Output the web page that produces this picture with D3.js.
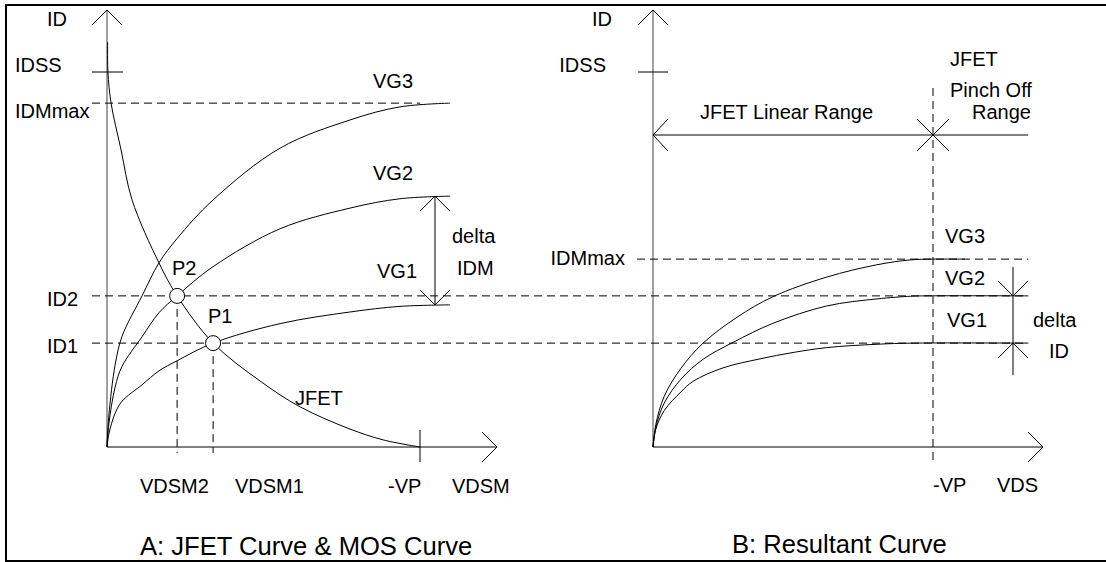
<!DOCTYPE html>
<html><head><meta charset="utf-8">
<script src="https://cdn.jsdelivr.net/npm/d3@7"></script>
<style>body{margin:0;background:#fff}svg{display:block}text{font-family:"Liberation Sans",Arial,sans-serif;fill:#000}</style>
</head><body><svg id="c" width="1106" height="562"></svg>
<script>
// ---- data (ID: IDSS = 100, VDSM/VDS: -VP = 100) ----
const levels = {IDSS:100, IDMmaxA:91.7, ID2:40.3, ID1:27.7, IDMmaxB:50.1};
const jfetX = [0.2, 0.3, 1.3, 4.5, 8.0, 16.6, 22.4, 33.9, 48.9, 61.7, 77.6, 88.2, 100];
const jfetY = [108, 100, 91.7, 79.2, 65.9, 49.1, 40.3, 27.7, 17.6, 10.7, 4.8, 1.9, 0];
const mosX  = [0, 0.6, 2.6, 4.8, 11.2, 16.6, 22.4, 33.9, 55.3, 77.6, 93.6, 109.6];
const vg3A  = [0, 8.5, 21.9, 29.5, 40.3, 49.1, 55.6, 65.9, 79.7, 87.2, 90.7, 91.7];
const vg2A  = [0, 6.2, 16.0, 21.5, 29.4, 35.8, 40.3, 48.1, 58.2, 63.7, 66.2, 66.9];
const vg1A  = [0, 3.5, 9.0, 12.2, 16.6, 20.3, 23.0, 27.7, 32.9, 36.0, 37.5, 37.9];
const points = [{name:"P2", x:22.4, y:40.3}, {name:"P1", x:33.9, y:27.7}];
const vg3BX = [0, 1, 4, 10, 17.9, 30, 42.9, 62, 80, 92, 100, 111.4];
const vg3B  = [0, 6.0, 13.5, 21.0, 27.7, 34.6, 40.1, 45.3, 48.6, 49.9, 50.1, 50.1];
const vg2BX = [0, 1, 4, 10, 17.9, 28.6, 42.9, 62, 80, 92, 96.4, 134];
const vg2B  = [0, 5.2, 11.7, 18.1, 23.4, 27.9, 33.0, 37.6, 39.5, 40.2, 40.3, 40.3];
const vg1BX = [0, 1, 4, 10, 14.3, 25, 38.2, 50, 62, 80, 93, 134];
const vg1B  = [0, 4.7, 9.7, 14.7, 17.5, 21.1, 23.5, 25.2, 26.5, 27.4, 27.7, 27.7];
const xEndB = 134;   // right end of horizontal lines in panel B
const vpX = 100;

// ---- layout ----
const svg = d3.select("#c");
const xA = d3.scaleLinear().domain([0,100]).range([107,420]);
const xB = d3.scaleLinear().domain([0,100]).range([653,933]);
const y  = d3.scaleLinear().domain([0,100]).range([447,72]);

svg.append("rect").attr("x",6).attr("y",5).attr("width",1300).attr("height",556)
  .attr("fill","none").attr("stroke","#000").attr("stroke-width",2);

const g = svg.append("g").attr("fill","none").attr("stroke","#000").attr("stroke-width",1);
const seg = (x1,y1,x2,y2,dash)=>{const l=g.append("line").attr("x1",x1).attr("y1",y1).attr("x2",x2).attr("y2",y2); if(dash) l.attr("stroke-dasharray","8,5"); return l;};
const poly = (pts)=>g.append("path").attr("d", d3.line()(pts));

function axes(x0, y0, yTop, xEnd){
  seg(x0,y0,x0,yTop).attr("stroke","#444"); poly([[x0-15,yTop+15],[x0,yTop],[x0+15,yTop+15]]);
  seg(x0,y0,xEnd,y0); poly([[xEnd-15,y0-15],[xEnd,y0],[xEnd-15,y0+15]]);
}
axes(xA(0), y(0), 10, 497);
axes(xB(0), y(0), 10, 1043);
// IDSS ticks
seg(xA(0)-15, y(levels.IDSS), xA(0)+16, y(levels.IDSS));
seg(xB(0)-15, y(levels.IDSS), xB(0)+15, y(levels.IDSS));
// -VP tick (A)
seg(xA(vpX), y(0)-17, xA(vpX), y(0)+15);

// dashed reference lines
seg(xA(0)-15, y(levels.IDMmaxA), xA(vpX), y(levels.IDMmaxA), true);
seg(xA(0)-15, y(levels.ID2), xB(xEndB), y(levels.ID2), true);
seg(xA(0)-15, y(levels.ID1), xB(xEndB), y(levels.ID1), true);
seg(xB(0)-16, y(levels.IDMmaxB), xB(xEndB), y(levels.IDMmaxB), true);
points.forEach(p=>seg(xA(p.x), y(p.y), xA(p.x), y(0)+6, true));
seg(xB(vpX), 88, xB(vpX), y(0)+15, true);

// curves
const cr = d3.curveCatmullRom.alpha(0.5);
const lineA = d3.line().curve(cr).x(d=>xA(d[0])).y(d=>y(d[1]));
const lineB = d3.line().curve(cr).x(d=>xB(d[0])).y(d=>y(d[1]));
g.append("path").attr("d", lineA(d3.zip(jfetX, jfetY)));
[vg3A, vg2A, vg1A].forEach(v=>g.append("path").attr("d", lineA(d3.zip(mosX, v))));
g.append("path").attr("d", lineB(d3.zip(vg3BX, vg3B)));
g.append("path").attr("d", lineB(d3.zip(vg2BX, vg2B)));
g.append("path").attr("d", lineB(d3.zip(vg1BX, vg1B)));

// delta IDM arrow (A)
const ax = 435, t1 = y(vg2A[vg2A.length-1]), b1 = y(vg1A[vg1A.length-1]);
seg(ax, t1, ax, b1);
poly([[ax-15,t1+15],[ax,t1],[ax+15,t1+15]]);
poly([[ax-15,b1-15],[ax,b1],[ax+15,b1-15]]);
// delta ID arrows (B)
const bx = 1013, t2 = y(levels.ID2), b2 = y(levels.ID1);
seg(bx, t2-29, bx, b2+32);
poly([[bx-15,t2-15],[bx,t2],[bx+15,t2-15]]);
poly([[bx-15,b2+15],[bx,b2],[bx+15,b2+15]]);
// JFET linear range arrow (B)
const hy = 135;
seg(xB(0), hy, xB(xEndB), hy);
poly([[xB(0)+15,hy-16],[xB(0),hy],[xB(0)+15,hy+16]]);
seg(xB(vpX)-16, hy-16, xB(vpX)+16, hy+16);
seg(xB(vpX)-16, hy+16, xB(vpX)+16, hy-16);

// operating points
svg.selectAll("circle.p").data(points).join("circle").attr("class","p")
  .attr("cx",d=>xA(d.x)).attr("cy",d=>y(d.y)).attr("r",7.5)
  .attr("fill","#fff").attr("stroke","#000").attr("stroke-width",1);

// labels
const labels = [
  ["ID",47,26,"start"],["IDSS",15,72,"start"],["IDMmax",15,118,"start"],
  ["ID2",47,306,"start"],["ID1",47,353,"start"],
  ["VG3",373,88,"start"],["VG2",373,180,"start"],["VG1",377,278,"start"],
  ["delta",452,243,"start"],["IDM",457,275,"start"],
  ["P2",172,275,"start"],["P1",208,323,"start"],["JFET",295,405,"start"],
  ["VDSM2",140,493,"start"],["VDSM1",235,493,"start"],["-VP",388,493,"start"],["VDSM",452,493,"start"],
  ["ID",592,26,"start"],["IDSS",606,72,"end"],["IDMmax",625,265,"end"],
  ["JFET Linear Range",700,119,"start"],["JFET",950,66,"start"],["Pinch Off",950,97,"start"],["Range",972,119,"start"],
  ["VG3",945,243,"start"],["VG2",945,285,"start"],["VG1",947,327,"start"],
  ["delta",1033,327,"start"],["ID",1049,358,"start"],
  ["-VP",933,492,"start"],["VDS",997,492,"start"]
];
svg.append("g").selectAll("text").data(labels).join("text")
  .attr("x",d=>d[1]).attr("y",d=>d[2]).attr("text-anchor",d=>d[3])
  .style("font-size","20px").text(d=>d[0]);
const titles = [["A: JFET Curve & MOS Curve",140,555],["B: Resultant Curve",732,553]];
svg.append("g").selectAll("text").data(titles).join("text")
  .attr("x",d=>d[1]).attr("y",d=>d[2]).style("font-size","25.6px").text(d=>d[0]);
</script></body></html>
